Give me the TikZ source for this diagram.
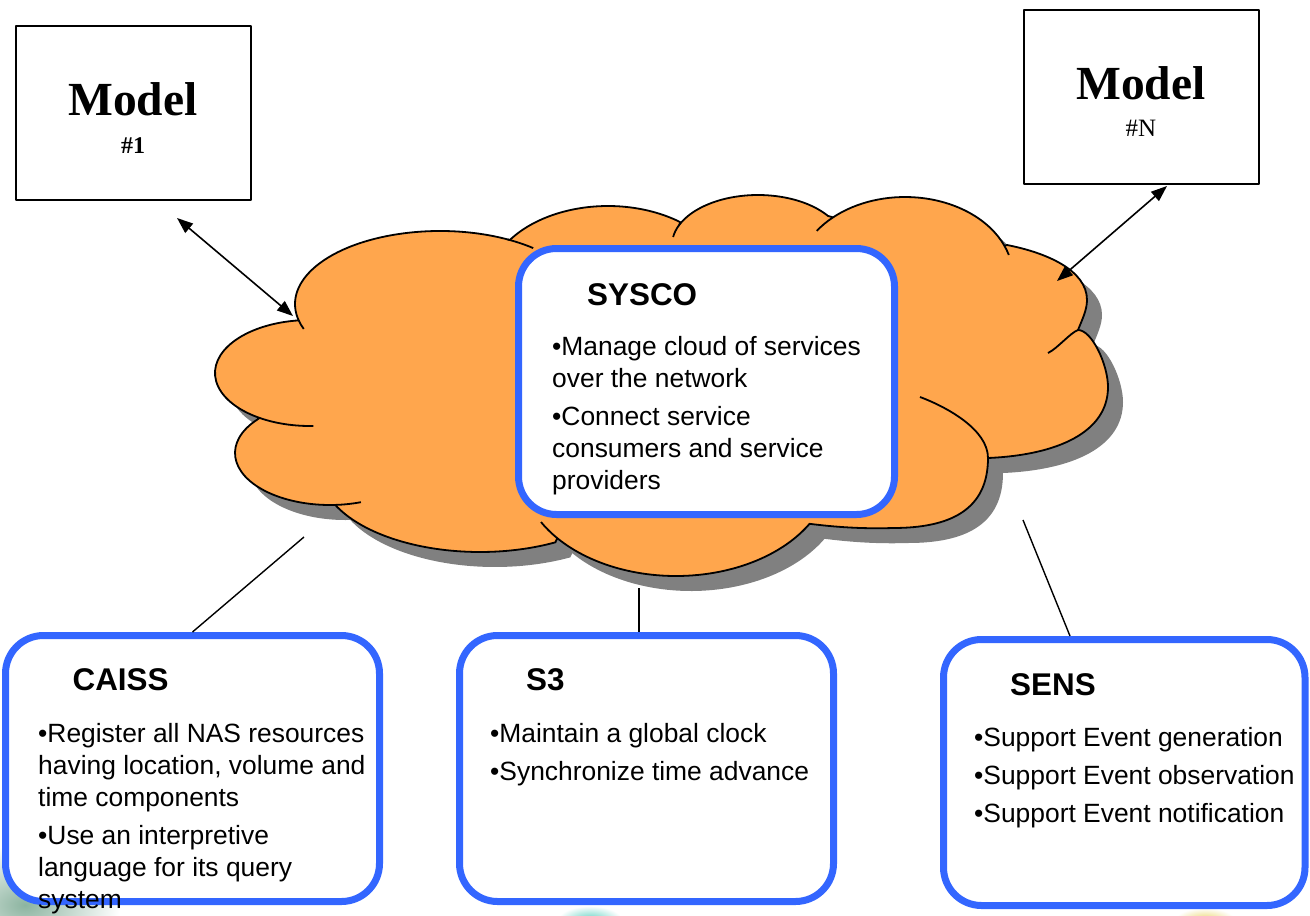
\documentclass[tikz,border=0pt]{standalone}
\usepackage{fontspec}
\setmainfont{Liberation Serif}
\newfontfamily\sansf{Liberation Sans}
\usetikzlibrary{arrows.meta}

\definecolor{cloudorange}{RGB}{255,166,77}
\definecolor{shadowgray}{RGB}{128,128,128}
\definecolor{boxblue}{RGB}{51,102,255}
\definecolor{bgsage}{RGB}{140,180,160}
\definecolor{bgteal}{RGB}{100,210,195}
\definecolor{bgyellow}{RGB}{235,215,110}

% Outline of the service cloud, lobe by lobe (anticlockwise from the left lobe)
\newcommand\cloudoutline{
  ([shift={(310,373)}]261:95 and 53) arc[start angle=261, end angle=122, x radius=95, y radius=53]
  -- ([shift={(330,453)}]220.4:95 and 52) arc[start angle=220.4, end angle=87, x radius=95, y radius=52]
  -- ([shift={(480,470)}]154.7:160 and 82) arc[start angle=154.7, end angle=61.9, x radius=160, y radius=82]
  -- ([shift={(676,470)}]140:155 and 106) arc[start angle=140, end angle=30.5, x radius=155, y radius=106]
  .. controls (835,527) and (862,529) .. (893,528)
  .. controls (950,528) and (988,510) .. (988,458)
  .. controls (1058,455) and (1108,432) .. (1108,387)
  .. controls (1108,365) and (1092,330) .. (1078,330)
  .. controls (1082,320) and (1087,310) .. (1087,300)
  .. controls (1087,270) and (1046,252.6) .. (1007,245)
  -- ([shift={(905,277)}]-22.96:108 and 80) arc[start angle=-22.96, end angle=-131.8, x radius=108, y radius=80]
  -- ([shift={(758,245)}]-35.6:86 and 50) arc[start angle=-35.6, end angle=-157, x radius=86, y radius=50]
  -- ([shift={(608,286)}]-52.9:120 and 80) arc[start angle=-52.9, end angle=-144.9, x radius=120, y radius=80]
  -- ([shift={(440,304)}]-62.2:145 and 73) arc[start angle=-62.2, end angle=-193, x radius=145, y radius=73]
  -- cycle}

\tikzset{
  modelbox/.style={draw=black, line width=1.8pt, fill=white, minimum width=235pt, minimum height=174pt, inner sep=0pt},
  bluebox/.style={draw=boxblue, line width=7pt, fill=white, rounded corners=38pt, inner sep=0pt, minimum height=266pt},
  headtxt/.style={font=\sansf\bfseries\fontsize{31.4}{36}\selectfont, anchor=base west, inner sep=0pt},
  bodytxt/.style={font=\sansf\fontsize{26.4}{32}\selectfont, anchor=north west, inner sep=0pt, align=left},
  crease/.style={line width=1.8pt},
  link/.style={line width=1.4pt},
  duplex/.style={line width=1.6pt, {Triangle[length=16pt,width=12pt]}-{Triangle[length=16pt,width=12pt]}},
}

\begin{document}
\begin{tikzpicture}[x=1pt, y=-1pt, line join=round]
\useasboundingbox (0,0) rectangle (1310,916);

% faint backdrop patches along the lower edge
\begin{scope}
  \clip (0,0) rectangle (1310,916);
  \shade[inner color=bgsage, outer color=white] (25,905) ellipse[x radius=95, y radius=60];
  \shade[inner color=bgteal, outer color=white] (590,920) ellipse[x radius=32, y radius=14];
  \shade[inner color=bgyellow, outer color=white] (1205,920) ellipse[x radius=30, y radius=12];
\end{scope}

% cloud with its drop shadow
\fill[shadowgray, shift={(15,15)}] \cloudoutline;
\filldraw[fill=cloudorange, draw=black, line width=1.8pt] \cloudoutline;

% creases where lobes overlap
\draw[crease] ([shift={(310,373)}]122:95 and 53) arc[start angle=122, end angle=88, x radius=95, y radius=53];
\draw[crease] ([shift={(330,453)}]87:95 and 52) arc[start angle=87, end angle=71, x radius=95, y radius=52];
\draw[crease] ([shift={(676,470)}]150.6:155 and 106) arc[start angle=150.6, end angle=140, x radius=155, y radius=106];
\draw[crease] (988,458) .. controls (988,430) and (948,407.5) .. (920,397);
\draw[crease] (1078,330) .. controls (1070,333) and (1058,348) .. (1048,353);
\draw[crease] ([shift={(905,277)}]-22.96:108 and 80) arc[start angle=-22.96, end angle=-16, x radius=108, y radius=80];
\draw[crease] ([shift={(905,277)}]-131.8:108 and 80) arc[start angle=-131.8, end angle=-144.8, x radius=108, y radius=80];
\draw[crease] ([shift={(758,245)}]-157:86 and 50) arc[start angle=-157, end angle=-170.8, x radius=86, y radius=50];
\draw[crease] ([shift={(440,304)}]-193:145 and 73) arc[start angle=-193, end angle=-200, x radius=145, y radius=73];
\draw[crease] ([shift={(440,304)}]-62.2:145 and 73) arc[start angle=-62.2, end angle=-50, x radius=145, y radius=73];

% SYSCO box on the cloud
\node[bluebox, minimum width=376pt] (sysco) at (706.5,381.5) {};
\node[headtxt] (syscohead) at (587,305) {SYSCO};
\node[bodytxt] (syscobody) at (552,335) {\rule{0pt}{20pt}•Manage cloud of services\\over the network\\[6pt]•Connect service\\consumers and service\\providers};

% model boxes
\node[modelbox] (model1) at (133.5,113) {};
\node[font=\bfseries\fontsize{47.5}{50}\selectfont, anchor=base, inner sep=0pt] (model1name) at (133,115) {Model};
\node[font=\bfseries\fontsize{24}{26}\selectfont, anchor=base, inner sep=0pt] (model1num) at (133,153) {\#1};

\node[modelbox] (modelN) at (1141.5,97) {};
\node[font=\bfseries\fontsize{47.5}{50}\selectfont, anchor=base, inner sep=0pt] (modelNname) at (1141,99) {Model};
\node[font=\fontsize{25}{27}\selectfont, anchor=base, inner sep=0pt] (modelNnum) at (1141,136) {\#N};

% service boxes below the cloud
\node[bluebox, minimum width=374pt] (caiss) at (192.5,768.5) {};
\node[bluebox, minimum width=374pt] (s3) at (646.5,768.5) {};
\node[bluebox, minimum width=361.5pt] (sens) at (1124.25,772.5) {};

\node[headtxt] (caisshead) at (72.4,690) {CAISS};
\node[bodytxt] (caissbody) at (38,722) {\rule{0pt}{20pt}•Register all NAS resources\\having location, volume and\\time components\\[6pt]•Use an interpretive\\language for its query\\system};

\node[headtxt] (s3head) at (526,690) {S3};
\node[bodytxt] (s3body) at (490,722) {\rule{0pt}{20pt}•Maintain a global clock\\[6pt]•Synchronize time advance};

\node[headtxt] (senshead) at (1010,695) {SENS};
\node[bodytxt] (sensbody) at (974,726) {\rule{0pt}{20pt}•Support Event generation\\[6pt]•Support Event observation\\[6pt]•Support Event notification};

% connector end points
\coordinate (m1end) at (177,218);
\coordinate (cl-m1) at (293,316);
\coordinate (mNend) at (1167,186);
\coordinate (cl-mN) at (1057,281);
\coordinate (cl-caiss) at (304,537);
\coordinate (cl-s3) at (639,588);
\coordinate (cl-sens) at (1023,520);
\coordinate (sens-in) at (1070,636);

% connectors
\draw[duplex] (m1end) -- (cl-m1);
\draw[duplex] (mNend) -- (cl-mN);
\draw[link] (cl-caiss) -- (caiss.north);
\draw[link] (cl-s3) -- (cl-s3 |- s3.north);
\draw[link] (cl-sens) -- (sens-in);
\end{tikzpicture}
\end{document}
